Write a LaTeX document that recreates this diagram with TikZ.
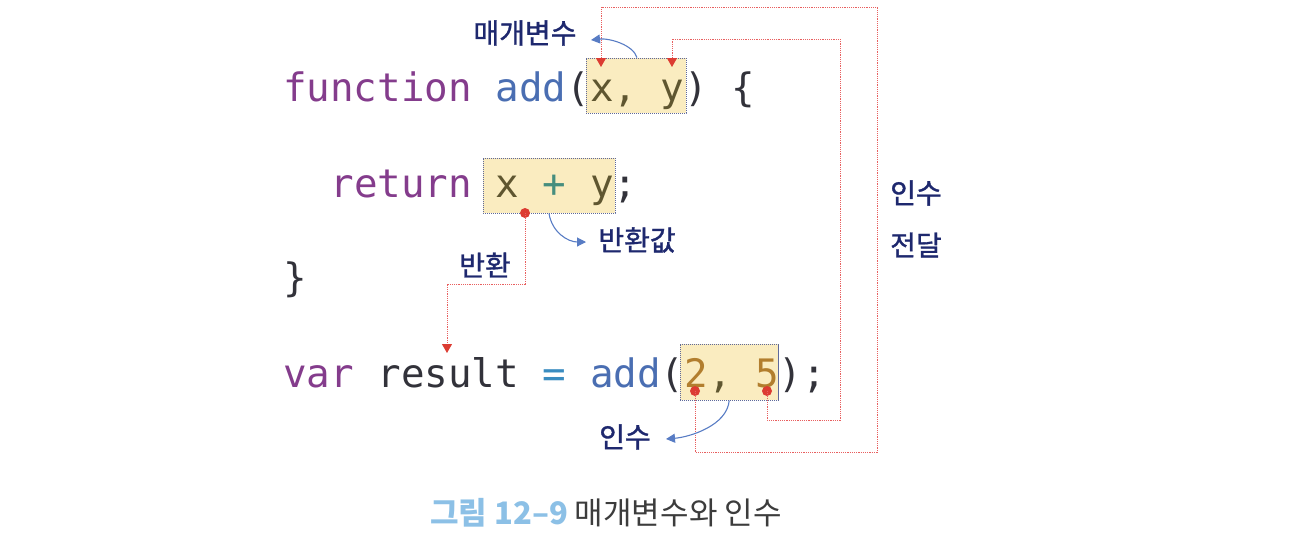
\documentclass[tikz,border=0pt]{standalone}
\usepackage{fontspec}
\usetikzlibrary{arrows.meta}
\newfontfamily\codefont{DejaVu Sans Mono}
\newfontfamily\krfont{Noto Sans CJK KR}
\newfontfamily\krlab{Noto Sans CJK KR}[FakeBold=1.2]
\definecolor{kw}{RGB}{132,60,140}
\definecolor{fn}{RGB}{74,110,178}
\definecolor{pn}{RGB}{50,50,58}
\definecolor{vr}{RGB}{95,86,48}
\definecolor{num}{RGB}{178,126,46}
\definecolor{op}{RGB}{70,142,126}
\definecolor{eq}{RGB}{58,140,192}
\definecolor{boxfill}{RGB}{250,236,192}
\definecolor{boxline}{RGB}{95,105,155}
\definecolor{lab}{RGB}{30,40,110}
\definecolor{redl}{RGB}{232,96,96}
\definecolor{redtip}{RGB}{220,60,50}
\definecolor{bluel}{RGB}{88,124,196}
\definecolor{capblue}{RGB}{140,192,230}
\definecolor{capgray}{RGB}{60,60,60}
\tikzset{
  code/.style={inner sep=0pt, anchor=base west, font=\codefont\fontsize{39.2}{47}\selectfont},
  hlbox/.style={draw=boxline, fill=boxfill, line width=0.9pt, dash pattern=on 1.2pt off 0.8pt, inner sep=0pt},
  lbl/.style={inner sep=0pt, text=lab, font=\krlab\fontsize{28}{32}\selectfont},
  reddot/.style={circle, fill=redtip, inner sep=0pt, minimum size=10pt},
  redline/.style={draw=redl, line width=1pt, dash pattern=on 1.2pt off 1pt, -{Triangle[width=10pt,length=9pt,color=redtip]}},
  bluearr/.style={draw=bluel, line width=1.1pt, -{Triangle[width=9pt,length=9pt]}},
}
\begin{document}
\begin{tikzpicture}[x=1pt,y=-1pt]
\useasboundingbox (0,0) rectangle (1294,550);
% highlight boxes
\node[hlbox, minimum width=100pt, minimum height=55pt] (params) at (636,85.5) {};
\node[hlbox, minimum width=132pt, minimum height=55pt] (retbox) at (549,185.5) {};
\node[hlbox, minimum width=98.5pt, minimum height=56pt] (args) at (729.2,372) {};
% code
\node[code] (l1) at (283,101) {\color{kw}function \color{fn}add\color{pn}(\color{vr}x, y\color{pn}) \{};
\node[code] (l2) at (330.2,197) {\color{kw}return \color{vr}x \color{op}+ \color{vr}y\color{pn};};
\node[code] (l3) at (283,291) {\color{pn}\}};
\node[code] (l4) at (283,387) {\color{kw}var \color{pn}result \color{eq}= \color{fn}add\color{pn}(\color{num}2\color{vr}, \color{num}5\color{pn});};
% labels
\node[lbl] (lparam) at (525,33) {매개변수};
\node[lbl] (lretval) at (637,240) {반환값};
\node[lbl] (lret) at (485,265) {반환};
\node[lbl] (larg) at (625,437) {인수};
\node[lbl] (lpass1) at (916,193) {인수};
\node[lbl] (lpass2) at (916,245) {전달};
% red dots
\node[reddot] (dr) at (525,213) {};
\node[reddot] (d2) at (695,391) {};
\node[reddot] (d5) at (767,391) {};
% arrow targets
\coordinate (px) at (601,67);
\coordinate (py) at (672,67);
\coordinate (res) at (447,353);
\coordinate (tparam) at (591,40);
\coordinate (tretval) at (586,242);
\coordinate (targ) at (666,439);
% red connectors
\draw[redline] (d2.center) |- (877,452) |- (601,7) -- (px);
\draw[redline] (d5.center) |- (840,420) |- (672,39) -- (py);
\draw[redline] (dr.center) |- (447,284) -- (res);
% blue label arrows
\draw[bluearr] (params.north) ++(1,0) .. controls +(-4,-13) and +(18,-2) .. (tparam);
\draw[bluearr] (retbox.south) .. controls +(3,19) and +(-18,0) .. (tretval);
\draw[bluearr] (args.south) .. controls +(-2,25) and +(24,-2) .. (targ);
% caption
\node[inner sep=0pt, anchor=west, font=\krfont\fontsize{31}{36}\selectfont] (cap) at (430,513) {\textcolor{capblue}{\bfseries 그림 12–9} \textcolor{capgray}{매개변수와 인수}};
\end{tikzpicture}
\end{document}
